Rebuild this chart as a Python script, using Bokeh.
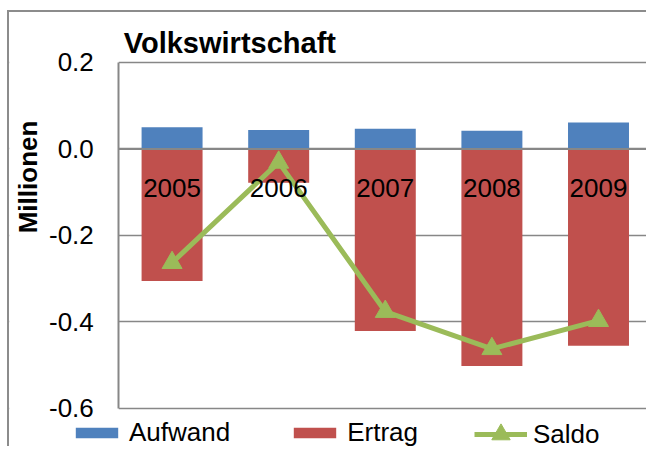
import math
from bokeh.plotting import figure
from bokeh.models import (Range1d, FixedTicker, Label, Legend, LegendItem,
                          BoxAnnotation)
from bokeh.core.properties import value
from bokeh.embed import file_html
from bokeh.resources import INLINE

# ---- data ----
years = ["2005", "2006", "2007", "2008", "2009"]
aufwand = [0.050, 0.044, 0.047, 0.042, 0.061]
ertrag = [-0.305, -0.078, -0.421, -0.502, -0.455]
saldo = [-0.263, -0.031, -0.376, -0.462, -0.397]
y_ticks = [0.2, 0, -0.2, -0.4, -0.6]
y_tick_labels = ["0.2", "0.0", "-0.2", "-0.4", "-0.6"]
chart_title = "Volkswirtschaft"
y_title = "Millionen"
series_names = ["Aufwand", "Ertrag", "Saldo"]

# ---- style ----
FONT = "Liberation Sans"
GRAY = "#878787"
BLUE = "#4F81BD"
RED = "#C0504D"
GREEN = "#9BBB59"

xs = [i + 0.5 for i in range(len(years))]
y_min, y_max = y_ticks[-1], y_ticks[0]

p = figure(width=639, height=436,
           x_range=Range1d(-1.025, 4.969), y_range=Range1d(-0.6925, 0.3156),
           output_backend="svg", toolbar_location=None, x_axis_location=None,
           min_border_left=0, min_border_right=0,
           min_border_top=0, min_border_bottom=0)
p.title.visible = False
p.styles = {"border-left": "2px solid #8c8c8c", "border-top": "2px solid #8c8c8c",
            "margin-top": "10px", "margin-left": "7px"}
p.outline_line_color = None
p.background_fill_color = "white"
p.border_fill_color = "white"

# y axis drawn at the start of the category axis
p.yaxis.fixed_location = 0
p.yaxis.bounds = (y_min, y_max)
p.yaxis.ticker = FixedTicker(ticks=y_ticks)
p.yaxis.major_label_overrides = {t: l for t, l in zip(y_ticks, y_tick_labels)}
p.yaxis.major_label_text_font = FONT
p.yaxis.major_label_text_font_size = "26px"
p.yaxis.major_label_text_color = "black"
p.yaxis.major_tick_line_color = None
p.yaxis.major_tick_out = 0
p.yaxis.major_tick_in = 0
p.yaxis.minor_tick_line_color = None
p.yaxis.minor_tick_out = 0
p.yaxis.axis_line_color = GRAY
p.yaxis.axis_line_width = 2
p.yaxis.major_label_standoff = 25
p.xgrid.visible = False
p.ygrid.ticker = FixedTicker(ticks=y_ticks)
p.ygrid.grid_line_color = GRAY
p.ygrid.grid_line_width = 1.5
# keep gridlines to the plot area (right of the value axis)
p.add_layout(BoxAnnotation(right=0, fill_color="white", fill_alpha=1.0,
                           line_color=None, level="underlay"))

r1 = p.vbar(x=xs, top=aufwand, bottom=0, width=0.572, fill_color=BLUE, line_color=None)
r2 = p.vbar(x=xs, top=0, bottom=ertrag, width=0.572, fill_color=RED, line_color=None)
# category axis line at zero, on top of the bars
p.ray(x=[0], y=[0], length=0, angle=0, line_color=GRAY, line_width=2)
r3 = p.line(x=xs, y=saldo, line_color=GREEN, line_width=5)
r4 = p.scatter(x=xs, y=saldo, marker="triangle", size=20, fill_color=GREEN, line_color=GREEN)

p.text(x=xs, y=[0] * len(years), text=years, text_font=value(FONT),
       text_font_size="26px", text_align="center", text_baseline="alphabetic",
       y_offset=39, text_color="black")

# title and axis title
p.add_layout(Label(x=0.047, y=0.2446, text=chart_title, text_font=FONT,
                   text_font_size="29px", text_font_style="bold", text_color="black",
                   text_baseline="alphabetic", text_align="left"))
p.add_layout(Label(x=-0.856, y=-0.0647, text=y_title, text_font=FONT,
                   text_font_size="26px", text_font_style="bold", text_color="black",
                   angle=math.pi / 2, text_baseline="middle", text_align="center"))

# legends
common = dict(orientation="horizontal", padding=0, margin=0, border_line_color=None,
              background_fill_alpha=0, label_text_font=FONT, label_text_font_size="26px",
              label_text_color="black", label_standoff=6, glyph_width=53, spacing=58)
leg1 = Legend(items=[LegendItem(label=series_names[0], renderers=[r1]),
                     LegendItem(label=series_names[1], renderers=[r2])],
              location=(61, 0), glyph_height=13, **common)
leg2 = Legend(items=[LegendItem(label=series_names[2], renderers=[r3, r4])],
              location=(465, -9), glyph_height=46, **common)
p.add_layout(leg1)
p.add_layout(leg2)

open("out.html", "w").write(file_html(p, INLINE))
